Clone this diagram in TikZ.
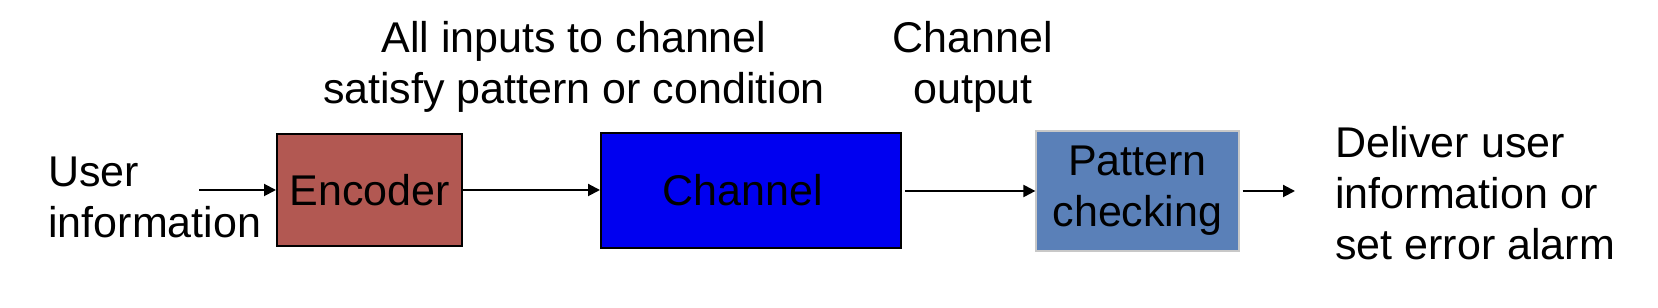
\documentclass[tikz,border=0pt]{standalone}
\usepackage{fontspec}
\setmainfont{Liberation Sans}
\usetikzlibrary{arrows.meta}
\definecolor{encred}{RGB}{178,88,82}
\definecolor{chblue}{RGB}{0,0,240}
\definecolor{patblue}{RGB}{90,128,184}
\definecolor{patborder}{RGB}{200,200,200}
\begin{document}
\begin{tikzpicture}[x=0.5pt,y=-0.5pt,
  txt/.style={font=\fontsize{21.5pt}{25.5pt}\selectfont, inner sep=0pt},
  blk/.style={draw=black, line width=1pt, inner sep=0pt, font=\fontsize{21.5pt}{25.5pt}\selectfont, align=center},
  conn/.style={line width=1pt, -{Triangle[length=6pt,width=6pt]}}]
\useasboundingbox (0,0) rectangle (1658,308);
\node[blk, fill=encred, minimum width=92.5pt, minimum height=56pt] (enc) at (369.5,190) {Encoder};
\node[blk, fill=chblue, minimum width=150pt, minimum height=57.5pt] (ch) at (751,190.5) {Channel\hspace*{8pt}};
\node[blk, draw=patborder, line width=0.6pt, fill=patblue, minimum width=101.5pt, minimum height=60pt] (pat) at (1137.5,191) {Pattern\\checking};
\node[txt, align=left, anchor=west] (user) at (48,197.5) {User\\information};
\node[txt, align=center] (all) at (574,67) {All inputs to channel\\satisfy pattern or condition};
\node[txt, align=center] (out) at (973,67) {Channel\\output};
\node[txt, align=left, anchor=west] (del) at (1335,193) {Deliver user\\information or\\set error alarm};
\coordinate (s1) at (199,190);
\coordinate (e4) at (1295,191);
\draw[conn] (s1) -- (enc.west);
\draw[conn] (enc.east) -- (ch.west |- enc.east);
\draw[conn, shorten <=1.5pt] (ch.east |- pat.west) -- (pat.west);
\draw[conn, shorten <=1.5pt] (pat.east) -- (e4);
\end{tikzpicture}
\end{document}
